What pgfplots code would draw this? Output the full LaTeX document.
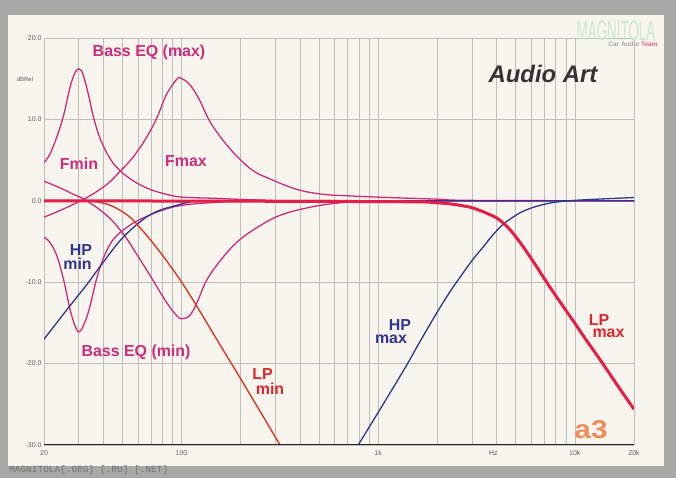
\documentclass[border=0pt]{standalone}
\usepackage{pgfplots}
\pgfplotsset{compat=1.18}
\usepackage{fontspec}
\setmainfont{Liberation Sans}
\newfontfamily\monofont{Liberation Mono}

\definecolor{frame}{RGB}{168,169,165}
\definecolor{paper}{RGB}{247,245,238}
\definecolor{eqpink}{RGB}{206,44,122}
\definecolor{hpblue}{RGB}{48,54,142}
\definecolor{lpmin}{RGB}{214,58,40}
\definecolor{lpmax}{RGB}{228,30,72}
\definecolor{lplabel}{RGB}{222,38,42}
\definecolor{gridc}{RGB}{190,190,186}
\definecolor{ticktext}{RGB}{95,95,95}
\definecolor{mint}{RGB}{205,232,214}
\definecolor{logoorange}{RGB}{240,140,90}

% Bass EQ (max), Fmin
\pgfplotstableread{
f dB
20 4.7
21.4 5.7
23.2 7.8
25.1 10.4
27.1 13.9
28.7 15.7
30.2 16.2
31.6 15.5
33.6 13.1
35.6 10.4
38.5 7.7
43.3 5.2
48.7 3.7
56.9 2.45
69.2 1.4
90.8 0.6
110 0.4
150 0.3
250 0.1
500 0.02
20000 0
}\eqmaxfmin

% Bass EQ (max), Fmax
\pgfplotstableread{
f dB
20 -2.0
24.1 -1.2
33 0.4
41.7 2.0
48.7 3.6
56.9 5.4
66.5 7.8
75 10.2
84 13.1
94.5 14.9
98.3 15.1
110 14.3
124 12.3
139 9.8
163 7.4
191 5.5
231 3.7
281 2.7
386 1.4
523 0.8
719 0.6
1000 0.45
2000 0.2
3000 0.05
20000 0
}\eqmaxfmax

% Bass EQ (min), Fmax
\pgfplotstableread{
f dB
20 2.4
24.1 1.6
28.2 0.8
33 0
41.7 -1.8
50.7 -4.1
61.5 -7.2
71.8 -9.8
84 -12.5
94.5 -14.1
100 -14.5
110 -14.1
119.5 -12.6
134 -9.8
157 -7.4
191 -5.1
242 -3.3
316 -1.8
449 -0.8
667 -0.2
1000 -0.05
20000 0
}\eqminfmax

% Bass EQ (min), Fmin
\pgfplotstableread{
f dB
20 -4.5
21.4 -5.1
23.2 -6.7
25.1 -9.6
27.1 -13.3
28.7 -15.3
30.2 -16.1
32.3 -14.9
34.3 -12.9
37 -9.6
39.3 -7.6
41.7 -6.1
44.5 -4.9
48.7 -3.9
54 -3.1
59.2 -2.5
75 -1.4
98.3 -0.6
150 -0.2
300 -0.05
20000 0
}\eqminfmin

\pgfplotstableread{
f dB
20 -17.0
27.1 -12.9
33 -10.3
38.5 -8.1
48.7 -4.9
61.5 -2.6
75 -1.3
98.3 -0.45
110 -0.2
150 0
20000 0
}\hpmin

\pgfplotstableread{
f dB
20 0
31.6 0
41.7 -0.4
52.7 -1.7
61.5 -3.3
75 -5.8
90.8 -8.5
106 -10.9
125 -13.7
150 -16.9
198 -21.7
250 -25.8
310 -29.6
320 -30.2
}\lpmin

\pgfplotstableread{
f dB
780 -30.3
792 -30.0
1000 -26.0
1200 -22.85
1396 -20.2
1650 -17.1
1983 -13.8
2300 -11.3
2606 -9.4
3000 -7.35
3412 -5.7
3800 -4.3
4314 -2.9
5000 -1.8
5688 -1.1
6800 -0.5
8090 -0.15
10000 0.05
13000 0.2
20000 0.4
}\hpmax

\pgfplotstableread{
f dB
20 0
1000 -0.1
2000 -0.25
2818 -0.7
3300 -1.2
3700 -1.7
4000 -2.1
4314 -2.7
4700 -3.6
5000 -4.4
5446 -5.6
6200 -7.6
7190 -10.0
8400 -12.4
9780 -14.7
11500 -17.2
13420 -19.5
16500 -22.7
20000 -25.6
}\lpmax

\begin{document}
\begin{tikzpicture}
\begin{scope}[x=1bp,y=1bp]
\useasboundingbox (0,0) rectangle (676,478);
\fill[frame] (0,0) rectangle (676,478);
\fill[paper] (8,12) rectangle (664,463);
\end{scope}

\begin{axis}[
    at={(44bp,33bp)}, anchor=south west,
    scale only axis, width=590bp, height=407bp,
    xmode=log, xmin=20, xmax=20000,
    ymin=-30, ymax=20,
    xtick={20,100,1000,10000,20000},
    xticklabels={20,100,1k,10k,20k},
    extra x ticks={3850}, extra x tick labels={Hz},
    extra x tick style={grid=none},
    minor xtick={30,40,50,60,70,80,90,200,300,400,500,600,700,800,900,2000,3000,4000,5000,6000,7000,8000,9000},
    ytick={-30,-20,-10,0,10,20},
    yticklabels={-30.0,-20.0,-10.0,0.0,10.0,20.0},
    grid=both,
    major grid style={gridc, line width=0.6bp},
    minor grid style={gridc, line width=0.6bp},
    axis line style={draw=gridc, densely dotted},
    major tick length=0pt, minor tick length=0pt,
    tick label style={font=\fontsize{7}{8}\selectfont, text=ticktext},
    xticklabel style={yshift=-2bp},
    yticklabel style={xshift=1bp},
    every axis plot/.append style={smooth, tension=0.6},
]
\addplot[eqpink, line width=1.3bp] table[x=f,y=dB] {\eqmaxfmin};
\addplot[eqpink, line width=1.3bp] table[x=f,y=dB] {\eqmaxfmax};
\addplot[eqpink, line width=1.3bp] table[x=f,y=dB] {\eqminfmax};
\addplot[eqpink, line width=1.3bp] table[x=f,y=dB] {\eqminfmin};
\addplot[hpblue, line width=1.3bp] table[x=f,y=dB] {\hpmin};
\addplot[lpmin, line width=1.4bp] table[x=f,y=dB] {\lpmin};
\addplot[hpblue, line width=1.3bp] table[x=f,y=dB] {\hpmax};
\addplot[lpmax, line width=3bp] table[x=f,y=dB] {\lpmax};
\end{axis}

\begin{scope}[x=1bp,y=1bp]
\draw[black!85, line width=1bp] (44,33) -- (634,33);

% curve labels
\begin{scope}[font=\bfseries\fontsize{16}{16}\selectfont, inner sep=0pt]
\node[eqpink, anchor=base] at (149,421) {Bass EQ (max)};
\node[eqpink, anchor=base] at (79,308) {Fmin};
\node[eqpink, anchor=base] at (186,311) {Fmax};
\node[eqpink, anchor=base] at (136,121) {Bass EQ (min)};
\node[hpblue, anchor=base] at (81,222) {HP};
\node[hpblue, anchor=base] at (77.5,208) {min};
\node[lplabel, anchor=base] at (262.5,98) {LP};
\node[lplabel, anchor=base] at (270,83) {min};
\node[hpblue, anchor=base] at (400,147) {HP};
\node[hpblue, anchor=base] at (391,134) {max};
\node[lplabel, anchor=base] at (599,152) {LP};
\node[lplabel, anchor=base] at (608.5,140) {max};
\end{scope}

\node[anchor=base, inner sep=0pt, text=black!80, font=\bfseries\itshape\fontsize{24}{24}\selectfont] at (543,395) {Audio Art};
\node[text=ticktext, font=\fontsize{6}{7}\selectfont, inner sep=0pt] at (25,399) {dBRel};

% watermarks
\node[text=mint, font=\fontsize{28}{28}\selectfont, xscale=0.48, inner sep=0pt] at (616,447) {MAGNITOLA};
\node[font=\bfseries\fontsize{6.5}{7}\selectfont, inner sep=0pt] at (633,434) {\textcolor{gray!70}{Car Audio} \textcolor{lpmax!70}{Team}};
\node[text=logoorange, font=\bfseries\fontsize{26}{26}\selectfont, inner sep=0pt, xscale=1.15] at (591,48) {a3};
\node[anchor=west, text=black!55, font=\monofont\fontsize{9.5}{10}\selectfont, inner sep=0pt] at (9,8) {MAGNITOLA[.ORG] [.RU] [.NET]};
\end{scope}
\end{tikzpicture}
\end{document}
